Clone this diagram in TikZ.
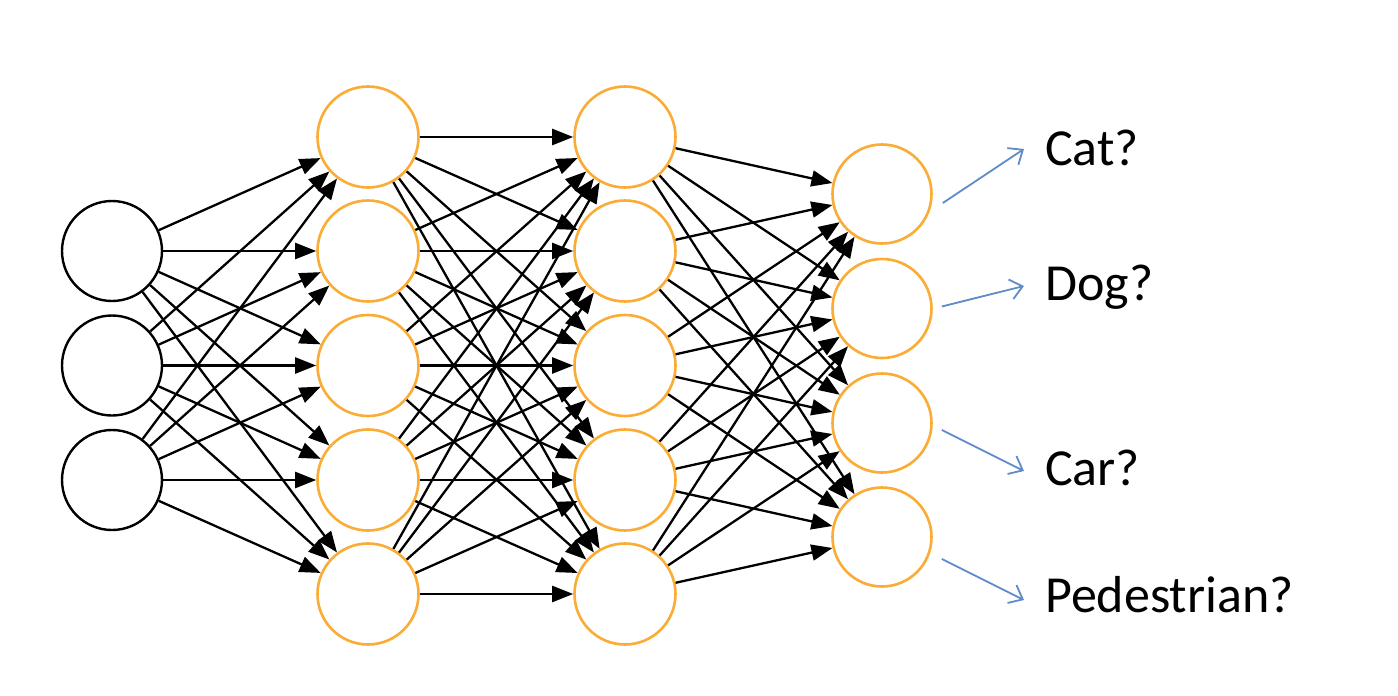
\documentclass[tikz,border=0pt]{standalone}
\usepackage{fontspec}
\setmainfont{Carlito}
\usetikzlibrary{arrows.meta}
\definecolor{nodeorange}{RGB}{250,172,52}
\definecolor{outblue}{RGB}{95,140,200}
\tikzset{
  inneuron/.style={circle, draw=black, line width=2.4pt, minimum size=100pt, inner sep=0pt},
  hidneuron/.style={circle, draw=nodeorange, line width=2.6pt, minimum size=101pt, inner sep=0pt},
  outneuron/.style={circle, draw=nodeorange, line width=2.6pt, minimum size=99pt, inner sep=0pt},
  conn/.style={draw=black, line width=2.3pt, -{Triangle[length=21pt,width=16pt]}},
  outarrow/.style={draw=outblue, line width=1.8pt, -{Straight Barb[length=12pt,width=20pt,line width=1.8pt]}},
  label/.style={anchor=base west, inner sep=0pt, font=\fontsize{52}{60}\selectfont}
}
\begin{document}
\begin{tikzpicture}[x=1pt,y=-1pt]
\useasboundingbox[fill=white] (0,0) rectangle (1398,696);
% input layer
\foreach \i/\y in {1/251,2/365.5,3/480} \node[inneuron] (i\i) at (112,\y) {};
% hidden layers
\foreach \i/\y in {1/137,2/251,3/365.5,4/480,5/594} {
  \node[hidneuron] (h\i) at (368,\y) {};
  \node[hidneuron] (g\i) at (625,\y) {};
}
% output layer
\foreach \i/\y in {1/194,2/308.5,3/423,4/537} \node[outneuron] (o\i) at (882,\y) {};
% connections
\foreach \a in {1,2,3} \foreach \b in {1,...,5} \draw[conn] (i\a) -- (h\b);
\foreach \a in {1,...,5} \foreach \b in {1,...,5} \draw[conn] (h\a) -- (g\b);
\foreach \a in {1,...,5} \foreach \b in {1,...,4} \draw[conn] (g\a) -- (o\b);
% labels
\node[label] (l1) at (1045,165) {Cat?};
\node[label] (l2) at (1045,300) {Dog?};
\node[label] (l3) at (1045,485) {Car?};
\node[label] (l4) at (1045,612) {Pedestrian?};
\coordinate (t1) at (1024,149);
\coordinate (t2) at (1024,286);
\coordinate (t3) at (1024,471);
\coordinate (t4) at (1024,600);
\draw[outarrow] (o1.east) ++(10,9) -- (t1);
\draw[outarrow] (o2.east) ++(9,-2) -- (t2);
\draw[outarrow] (o3.east) ++(9,7) -- (t3);
\draw[outarrow] (o4.east) ++(9,22) -- (t4);
\end{tikzpicture}
\end{document}
